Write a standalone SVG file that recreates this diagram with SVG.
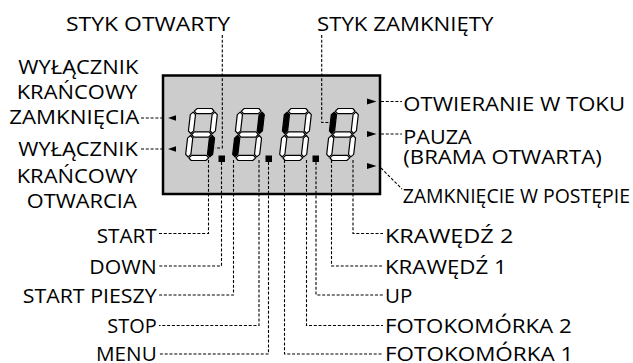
<svg xmlns="http://www.w3.org/2000/svg" xmlns:xlink="http://www.w3.org/1999/xlink" width="633" height="363" viewBox="0 0 633 363">
<style>
text{font-family:"Open Sans","Noto Sans","Liberation Sans",sans-serif;font-size:20.5px;fill:#000}
.c{fill:none;stroke:#000;stroke-width:1.1;stroke-dasharray:3 1.8}
.seg{stroke:#000;stroke-width:1.2;stroke-linejoin:round}
.on{fill:#000}
.off{fill:#fff}
.ar{fill:#000}
</style>
<defs>
<polygon id="sa" points="3.6,2.6 6.2,0 20.8,0 23.4,2.6 20.8,5.2 6.2,5.2"/>
<polygon id="sg" points="3.6,26 6.2,23.4 20.8,23.4 23.4,26 20.8,28.6 6.2,28.6"/>
<polygon id="sd" points="3.6,49.4 6.2,46.8 20.8,46.8 23.4,49.4 20.8,52 6.2,52"/>
<polygon id="sf" points="2.6,3.6 5.2,6.2 5.2,22.4 2.6,25 0,22.4 0,6.2"/>
<polygon id="sb" points="24.4,3.6 27,6.2 27,22.4 24.4,25 21.8,22.4 21.8,6.2"/>
<polygon id="se" points="2.6,27 5.2,29.6 5.2,45.8 2.6,48.4 0,45.8 0,29.6"/>
<polygon id="sc" points="24.4,27 27,29.6 27,45.8 24.4,48.4 21.8,45.8 21.8,29.6"/>
</defs>

<g id="display">
<rect x="163" y="75.5" width="217" height="118.5" fill="#cccccc" stroke="#000" stroke-width="2.5"/>
</g>

<g id="connectors">
<polyline class="c" points="222.3,35 222.3,148 215,148"/>
<polyline class="c" points="321.7,35 321.7,122.5 331,122.5"/>
<line class="c" x1="141" y1="118" x2="163" y2="118"/>
<line class="c" x1="141" y1="149" x2="163" y2="149"/>
<line class="c" x1="381" y1="101.5" x2="402" y2="101.5"/>
<line class="c" x1="381" y1="134" x2="402" y2="134"/>
<line class="c" x1="381" y1="168" x2="402" y2="189"/>
<polyline class="c" points="208.5,160 208.5,233.5 159,233.5"/>
<polyline class="c" points="221.5,162 221.5,266 159,266"/>
<polyline class="c" points="233.5,160 233.5,295 159,295"/>
<polyline class="c" points="259,160 259,325.5 159,325.5"/>
<polyline class="c" points="268.5,162 268.5,354 159,354"/>
<polyline class="c" points="284.5,160 284.5,354 383,354"/>
<polyline class="c" points="306.5,160 306.5,325.5 383,325.5"/>
<polyline class="c" points="316,162 316,295 383,295"/>
<polyline class="c" points="331.5,160 331.5,266 383,266"/>
<polyline class="c" points="353,160 353,233.5 383,233.5"/>
</g>

<g id="indicators">
<polygon class="ar" points="168,118 176,115.3 176,120.7"/>
<polygon class="ar" points="168,149 176,146.3 176,151.7"/>
<polygon class="ar" points="376.5,101.5 367,98.5 367,104.5"/>
<polygon class="ar" points="376.5,134 367,131 367,137"/>
<polygon class="ar" points="376.5,166 367,163 367,169"/>
</g>

<g id="digit1" transform="translate(191,108.5) skewX(-6.6)">
<use xlink:href="#sa" class="seg off"/><use xlink:href="#sb" class="seg off"/><use xlink:href="#sc" class="seg on"/><use xlink:href="#sd" class="seg off"/><use xlink:href="#se" class="seg off"/><use xlink:href="#sf" class="seg off"/><use xlink:href="#sg" class="seg off"/>
</g>
<g id="digit2" transform="translate(238,108.5) skewX(-6.6)">
<use xlink:href="#sa" class="seg off"/><use xlink:href="#sb" class="seg on"/><use xlink:href="#sc" class="seg off"/><use xlink:href="#sd" class="seg off"/><use xlink:href="#se" class="seg on"/><use xlink:href="#sf" class="seg off"/><use xlink:href="#sg" class="seg off"/>
</g>
<g id="digit3" transform="translate(285,108.5) skewX(-6.6)">
<use xlink:href="#sa" class="seg off"/><use xlink:href="#sb" class="seg off"/><use xlink:href="#sc" class="seg off"/><use xlink:href="#sd" class="seg off"/><use xlink:href="#se" class="seg off"/><use xlink:href="#sf" class="seg on"/><use xlink:href="#sg" class="seg off"/>
</g>
<g id="digit4" transform="translate(332,108.5) skewX(-6.6)">
<use xlink:href="#sa" class="seg off"/><use xlink:href="#sb" class="seg off"/><use xlink:href="#sc" class="seg off"/><use xlink:href="#sd" class="seg off"/><use xlink:href="#se" class="seg off"/><use xlink:href="#sf" class="seg on"/><use xlink:href="#sg" class="seg off"/>
</g>
<g id="dots">
<rect x="218.5" y="155.5" width="6.5" height="6.5"/>
<rect x="265.5" y="155.5" width="6.5" height="6.5"/>
<rect x="312.5" y="155.5" width="6.5" height="6.5"/>
</g>

<g id="label-styk-otwarty"><text x="66" y="31" textLength="164" lengthAdjust="spacingAndGlyphs">STYK OTWARTY</text></g>
<g id="label-styk-zamkniety"><text x="317" y="31" textLength="176.5" lengthAdjust="spacingAndGlyphs">STYK ZAMKNIĘTY</text></g>

<g id="label-wyl-zamkniecia">
<text x="18.3" y="73.5" textLength="120" lengthAdjust="spacingAndGlyphs">WYŁĄCZNIK</text>
<text x="16.7" y="98.5" textLength="120.7" lengthAdjust="spacingAndGlyphs">KRAŃCOWY</text>
<text x="9.3" y="124" textLength="130" lengthAdjust="spacingAndGlyphs">ZAMKNIĘCIA</text>
</g>
<g id="label-wyl-otwarcia">
<text x="18.3" y="156" textLength="119.5" lengthAdjust="spacingAndGlyphs">WYŁĄCZNIK</text>
<text x="16.7" y="182.5" textLength="120.7" lengthAdjust="spacingAndGlyphs">KRAŃCOWY</text>
<text x="26.7" y="208" textLength="110" lengthAdjust="spacingAndGlyphs">OTWARCIA</text>
</g>

<g id="label-otwieranie"><text x="403.3" y="110.5" textLength="221.7" lengthAdjust="spacingAndGlyphs">OTWIERANIE W TOKU</text></g>
<g id="label-pauza"><text x="403.3" y="143.5" textLength="68.4" lengthAdjust="spacingAndGlyphs">PAUZA</text><text x="403.3" y="164.3" textLength="198.4" lengthAdjust="spacingAndGlyphs">(BRAMA OTWARTA)</text></g>
<g id="label-zamkniecie"><text x="402.7" y="202.7" textLength="227.3" lengthAdjust="spacingAndGlyphs">ZAMKNIĘCIE W POSTĘPIE</text></g>

<g id="label-start"><text x="96.7" y="243" textLength="60" lengthAdjust="spacingAndGlyphs">START</text></g>
<g id="label-down"><text x="89.3" y="274" textLength="67.4" lengthAdjust="spacingAndGlyphs">DOWN</text></g>
<g id="label-start-pieszy"><text x="22.7" y="303" textLength="134" lengthAdjust="spacingAndGlyphs">START PIESZY</text></g>
<g id="label-stop"><text x="107.3" y="333" textLength="49.4" lengthAdjust="spacingAndGlyphs">STOP</text></g>
<g id="label-menu"><text x="96" y="361" textLength="60.7" lengthAdjust="spacingAndGlyphs">MENU</text></g>

<g id="label-krawedz2"><text x="385" y="243" textLength="128.3" lengthAdjust="spacingAndGlyphs">KRAWĘDŹ 2</text></g>
<g id="label-krawedz1"><text x="385" y="274" textLength="121.7" lengthAdjust="spacingAndGlyphs">KRAWĘDŹ 1</text></g>
<g id="label-up"><text x="385" y="303">UP</text></g>
<g id="label-foto2"><text x="385" y="333" textLength="186.7" lengthAdjust="spacingAndGlyphs">FOTOKOMÓRKA 2</text></g>
<g id="label-foto1"><text x="385" y="361" textLength="188.3" lengthAdjust="spacingAndGlyphs">FOTOKOMÓRKA 1</text></g>
</svg>
